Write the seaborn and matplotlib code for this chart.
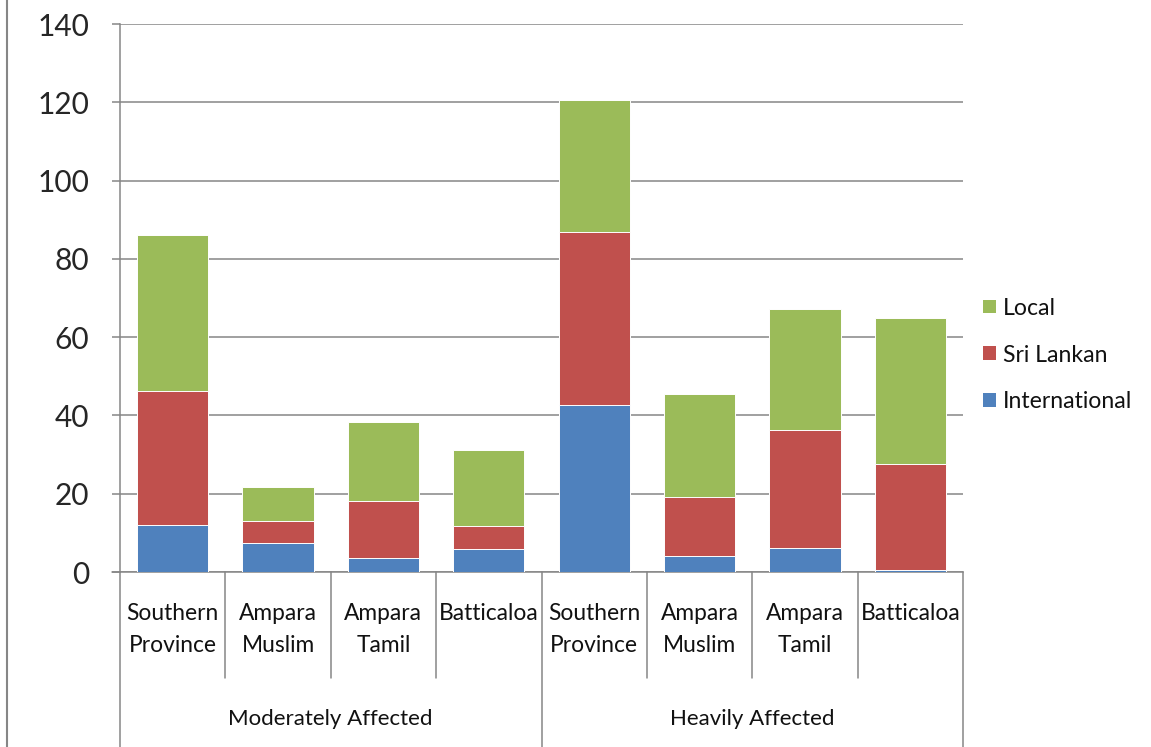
import numpy as np
import pandas as pd
import matplotlib
matplotlib.use("Agg")
import matplotlib.pyplot as plt
import matplotlib.transforms as mtransforms
from matplotlib.lines import Line2D
from matplotlib.patches import Patch
import seaborn as sns

# ---- data ----
groups = ["Moderately Affected", "Heavily Affected"]
regions = ["Southern\nProvince", "Ampara\nMuslim", "Ampara\nTamil", "Batticaloa"]
international = [12.0, 7.3, 3.7, 5.9, 42.6, 4.1, 6.1, 0.5]
sri_lankan = [34.2, 5.8, 14.4, 5.9, 44.3, 15.0, 30.3, 27.2]
local = [39.9, 8.5, 20.1, 19.3, 33.6, 26.5, 30.7, 37.1]
series_names = ["International", "Sri Lankan", "Local"]
series_colors = ["#4F81BD", "#C0504D", "#9BBB59"]
yticks = [0, 20, 40, 60, 80, 100, 120, 140]

sns.set_style("white")
plt.rcParams["font.family"] = ["Lato", "DejaVu Sans"]

keys = [f"{g}|{r}" for g in groups for r in regions]
df = pd.DataFrame({"key": keys, "International": international,
                   "Sri Lankan": sri_lankan, "Local": local})
df["c_int"] = df["International"]
df["c_sl"] = df["c_int"] + df["Sri Lankan"]
df["c_loc"] = df["c_sl"] + df["Local"]

W, H = 1151, 747
fig = plt.figure(figsize=(W / 100, H / 100), dpi=100)
ax_l, ax_r, ax_t, ax_b = 120, 963, 24, 572
ax = fig.add_axes([ax_l / W, (H - ax_b) / H, (ax_r - ax_l) / W, (ax_b - ax_t) / H])

grid_c = "#868686"
for col, c in [("c_loc", series_colors[2]), ("c_sl", series_colors[1]), ("c_int", series_colors[0])]:
    sns.barplot(data=df, x="key", y=col, order=keys, color=c, saturation=1,
                width=0.675, errorbar=None, ax=ax, edgecolor="white", linewidth=0.7,
                zorder=3)

ax.set_ylim(0, 140)
ax.set_xlim(-0.5, 7.5)
ax.set_yticks(yticks)
ax.set_yticklabels([str(v) for v in yticks], fontsize=21.5)
ax.yaxis.grid(True, color=grid_c, lw=1.1, zorder=0)
ax.xaxis.grid(False)
ax.set_axisbelow(True)
for s in ["top", "right"]:
    ax.spines[s].set_visible(False)
for s in ["left", "bottom"]:
    ax.spines[s].set_color(grid_c)
    ax.spines[s].set_linewidth(1.1)
ax.tick_params(axis="y", length=6, width=1.1, color=grid_c, direction="out", pad=16, left=True)
ax.tick_params(axis="x", length=0, labelbottom=False)
ax.set_xlabel("")
ax.set_ylabel("")

def ay(px):
    return (ax_b - px) / (ax_b - ax_t)

trans = mtransforms.blended_transform_factory(ax.transData, ax.transAxes)

# category separators
for xb in [0.5, 1.5, 2.5, 4.5, 5.5, 6.5]:
    ax.plot([xb, xb], [0, ay(678)], transform=trans, color=grid_c, lw=1.1, clip_on=False)
for xb in [-0.5, 3.5, 7.5]:
    ax.plot([xb, xb], [0, ay(750)], transform=trans, color=grid_c, lw=1.1, clip_on=False)
# small tick at zero extending left
ax.plot([-0.5 - 8 / 105.4, -0.5], [0, 0], transform=trans, color=grid_c, lw=1.1, clip_on=False)

# category labels
for gi, g in enumerate(groups):
    for ri, r in enumerate(regions):
        x = gi * len(regions) + ri
        lines = r.split("\n")
        for li, line in enumerate(lines):
            ax.text(x, ay(614 + 32 * li), line, transform=trans, ha="center", va="center",
                    fontsize=16.4, color="#111111")
    ax.text(gi * len(regions) + 1.5, ay(719), g, transform=trans, ha="center", va="center",
            fontsize=16, color="#111111")

# legend
handles = [Patch(facecolor=series_colors[i], edgecolor="none", label=series_names[i]) for i in [2, 1, 0]]
fig.legend(handles=handles, loc="center left", bbox_to_anchor=(983 / W, (H - 355) / H),
           frameon=False, fontsize=16.6, handlelength=0.55, handleheight=0.55,
           handletextpad=0.3, labelspacing=1.12, borderpad=0, borderaxespad=0,
           labelcolor="#111111")

# outer left frame line
fig.add_artist(Line2D([7 / W, 7 / W], [0, 1], color=grid_c, lw=1.5))

fig.savefig("out.png", dpi=100)
